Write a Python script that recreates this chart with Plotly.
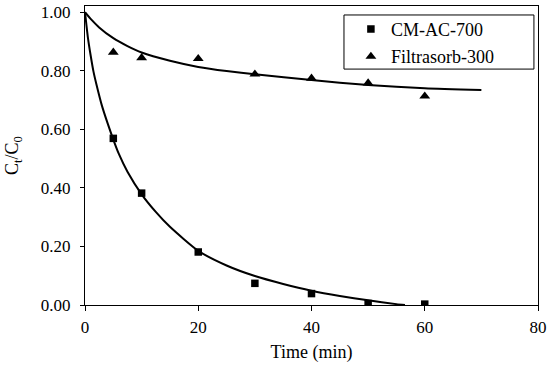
import plotly.graph_objects as go

# Measured data
time_pts = [5, 10, 20, 30, 40, 50, 60]
cm_ac_700 = [0.569, 0.382, 0.181, 0.074, 0.039, 0.005, 0.003]
filtrasorb_300 = [0.863, 0.844, 0.841, 0.788, 0.774, 0.758, 0.713]

# Fitted curves
cm_fit_t = [0, 0.5, 1, 1.5, 2, 3, 4, 5, 6, 7.5, 10, 12.5, 15, 20, 25, 30, 35, 40, 45, 50, 55, 56.5]
cm_fit_v = [1.0, 0.915, 0.852, 0.797, 0.755, 0.680, 0.620, 0.565, 0.515, 0.455, 0.378, 0.318,
            0.267, 0.185, 0.135, 0.099, 0.072, 0.049, 0.031, 0.016, 0.003, 0.0]
fs_fit_t = [0, 1, 2.5, 5, 7.5, 10, 15, 20, 25, 30, 40, 50, 60, 70]
fs_fit_v = [1.0, 0.977, 0.948, 0.911, 0.884, 0.862, 0.834, 0.813, 0.799, 0.788, 0.768, 0.751,
            0.740, 0.734]

x_ticks = [0, 20, 40, 60, 80]
y_ticks = [0.0, 0.2, 0.4, 0.6, 0.8, 1.0]
y_tick_text = ["0.00", "0.20", "0.40", "0.60", "0.80", "1.00"]

FONT = '"Liberation Serif", "Times New Roman", serif'

fig = go.Figure()
fig.add_trace(go.Scatter(x=cm_fit_t, y=cm_fit_v, mode="lines",
                         line=dict(color="black", width=2, shape="spline", smoothing=0.6),
                         showlegend=False, hoverinfo="skip"))
fig.add_trace(go.Scatter(x=fs_fit_t, y=fs_fit_v, mode="lines",
                         line=dict(color="black", width=2, shape="spline", smoothing=0.6),
                         showlegend=False, hoverinfo="skip"))
fig.add_trace(go.Scatter(x=time_pts, y=cm_ac_700, mode="markers", name="CM-AC-700",
                         legendgroup="a",
                         marker=dict(symbol="square", size=7.5, color="black")))
fig.add_trace(go.Scatter(x=time_pts, y=filtrasorb_300, mode="markers", name="Filtrasorb-300",
                         legendgroup="b",
                         marker=dict(symbol="triangle-up", size=9.5, color="black")))

# legend frame (Excel-style box, wider than the entries)
fig.add_shape(type="rect", xref="paper", yref="paper",
              x0=0.5717, x1=0.991, y0=0.789, y1=0.970,
              line=dict(color="black", width=1), fillcolor="white", layer="above")

fig.update_layout(
    width=550, height=369,
    margin=dict(l=85, r=12, t=6, b=64, autoexpand=False),
    paper_bgcolor="white", plot_bgcolor="white",
    font=dict(family=FONT, size=17, color="black"),
    showlegend=True,
    legend=dict(x=0.587, y=0.984, xanchor="left", yanchor="top",
                borderwidth=0, bgcolor="rgba(0,0,0,0)",
                font=dict(family=FONT, size=18, color="black"), tracegroupgap=1),
    xaxis=dict(range=[0, 80], tickvals=x_ticks, showline=True, linecolor="black", linewidth=1,
               mirror=True, ticks="outside", ticklen=5, tickcolor="black", showgrid=False,
               zeroline=False, ticklabelstandoff=2, automargin=False,
               tickfont=dict(family=FONT, size=17, color="black"),
               title=dict(text="Time (min)", font=dict(family=FONT, size=18, color="black"),
                          standoff=8)),
    yaxis=dict(range=[0, 1.021], tickvals=y_ticks, ticktext=y_tick_text, showline=True,
               linecolor="black", linewidth=1, mirror=True, ticks="outside", ticklen=4,
               tickcolor="black", showgrid=False, zeroline=False, ticklabelstandoff=6,
               automargin=False,
               tickfont=dict(family=FONT, size=17, color="black"),
               title=dict(text="C<sub>t</sub>/C<sub>0</sub>",
                          font=dict(family=FONT, size=18, color="black"), standoff=17)),
)

fig.write_html("out.html", config={"displayModeBar": False},
               post_script="document.body.style.margin='0px';document.body.style.padding='0px';")
